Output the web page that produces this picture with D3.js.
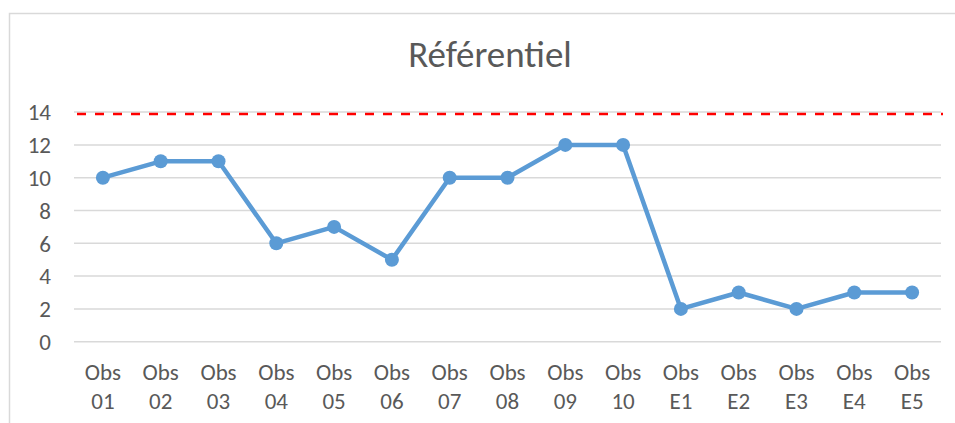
<!DOCTYPE html>
<html>
<head>
<meta charset="utf-8">
<script src="https://cdn.jsdelivr.net/npm/d3@7/dist/d3.min.js"></script>
<style>
  html, body { margin: 0; padding: 0; background: #fff; }
  svg { display: block; font-family: Carlito, Calibri, Lato, "Open Sans", sans-serif; }
</style>
</head>
<body>
<svg id="chart" width="955" height="423"></svg>
<script>
// Observation labels (two lines each) and their scores
const categories = ["Obs 01", "Obs 02", "Obs 03", "Obs 04", "Obs 05", "Obs 06", "Obs 07", "Obs 08",
                    "Obs 09", "Obs 10", "Obs E1", "Obs E2", "Obs E3", "Obs E4", "Obs E5"];
const values = [10, 11, 11, 6, 7, 5, 10, 10, 12, 12, 2, 3, 2, 3, 3];
const yTicks = [0, 2, 4, 6, 8, 10, 12, 14];
const threshold = [13.88];
const title = "Référentiel";

const FONT = "Carlito, Calibri, Lato, 'Open Sans', sans-serif";
const svg = d3.select("#chart");
const W = 955, H = 423;
const plot = { left: 74, right: 941, top: 112.1, bottom: 341.7 };

// Chart frame
svg.append("rect").attr("x", 9.5).attr("y", 13.5).attr("width", W + 20).attr("height", H + 20)
  .attr("fill", "#fff").attr("stroke", "#d9d9d9").attr("stroke-width", 1.5);

const x = d3.scaleBand().domain(categories).range([plot.left, plot.right]);
const y = d3.scaleLinear().domain([0, 14]).range([plot.bottom, plot.top]);

// Title
svg.append("text").attr("x", 490).attr("y", 67).attr("text-anchor", "middle")
  .attr("font-size", 37).attr("fill", "#595959").text(title);

// Horizontal gridlines
svg.append("g").selectAll("line").data(yTicks).join("line")
  .attr("x1", plot.left).attr("x2", plot.right)
  .attr("y1", d => y(d)).attr("y2", d => y(d))
  .attr("stroke", "#d9d9d9").attr("stroke-width", 1.5);

// Y axis labels
const yAxis = d3.axisLeft(y).tickValues(yTicks).tickSize(0).tickPadding(0);
const gy = svg.append("g").attr("transform", `translate(51,0)`).call(yAxis);
gy.select(".domain").remove();
gy.selectAll("text").attr("font-size", 23).attr("fill", "#595959")
  .attr("font-family", FONT).attr("dy", "0.34em");

// X axis labels, split over two lines
const xAxis = d3.axisBottom(x).tickSize(0).tickFormat("");
const gx = svg.append("g").attr("transform", `translate(0,${plot.bottom})`).call(xAxis);
gx.select(".domain").remove();
gx.selectAll(".tick").each(function(d) {
  const parts = d.split(" ");
  const t = d3.select(this).append("text")
    .attr("text-anchor", "middle").attr("font-size", 23).attr("fill", "#595959")
    .attr("font-family", FONT);
  t.append("tspan").attr("x", 0).attr("y", 38).text(parts[0]);
  t.append("tspan").attr("x", 0).attr("y", 67).text(parts[1]);
});

// Dashed threshold line
svg.append("g").selectAll("line").data(threshold).join("line")
  .attr("x1", plot.left + 3).attr("x2", plot.right + 2)
  .attr("y1", d => y(d)).attr("y2", d => y(d))
  .attr("stroke", "#ff0000").attr("stroke-width", 2.5)
  .attr("stroke-dasharray", "9,9");

// Series line and markers
const cx = d => x(d) + x.bandwidth() / 2;
const pts = categories.map((c, i) => [cx(c), y(values[i])]);
svg.append("path").datum(pts)
  .attr("d", d3.line())
  .attr("fill", "none").attr("stroke", "#5b9bd5").attr("stroke-width", 4.5)
  .attr("stroke-linejoin", "round");
svg.append("g").selectAll("circle").data(pts).join("circle")
  .attr("cx", d => d[0]).attr("cy", d => d[1]).attr("r", 7)
  .attr("fill", "#5b9bd5");
</script>
</body>
</html>
